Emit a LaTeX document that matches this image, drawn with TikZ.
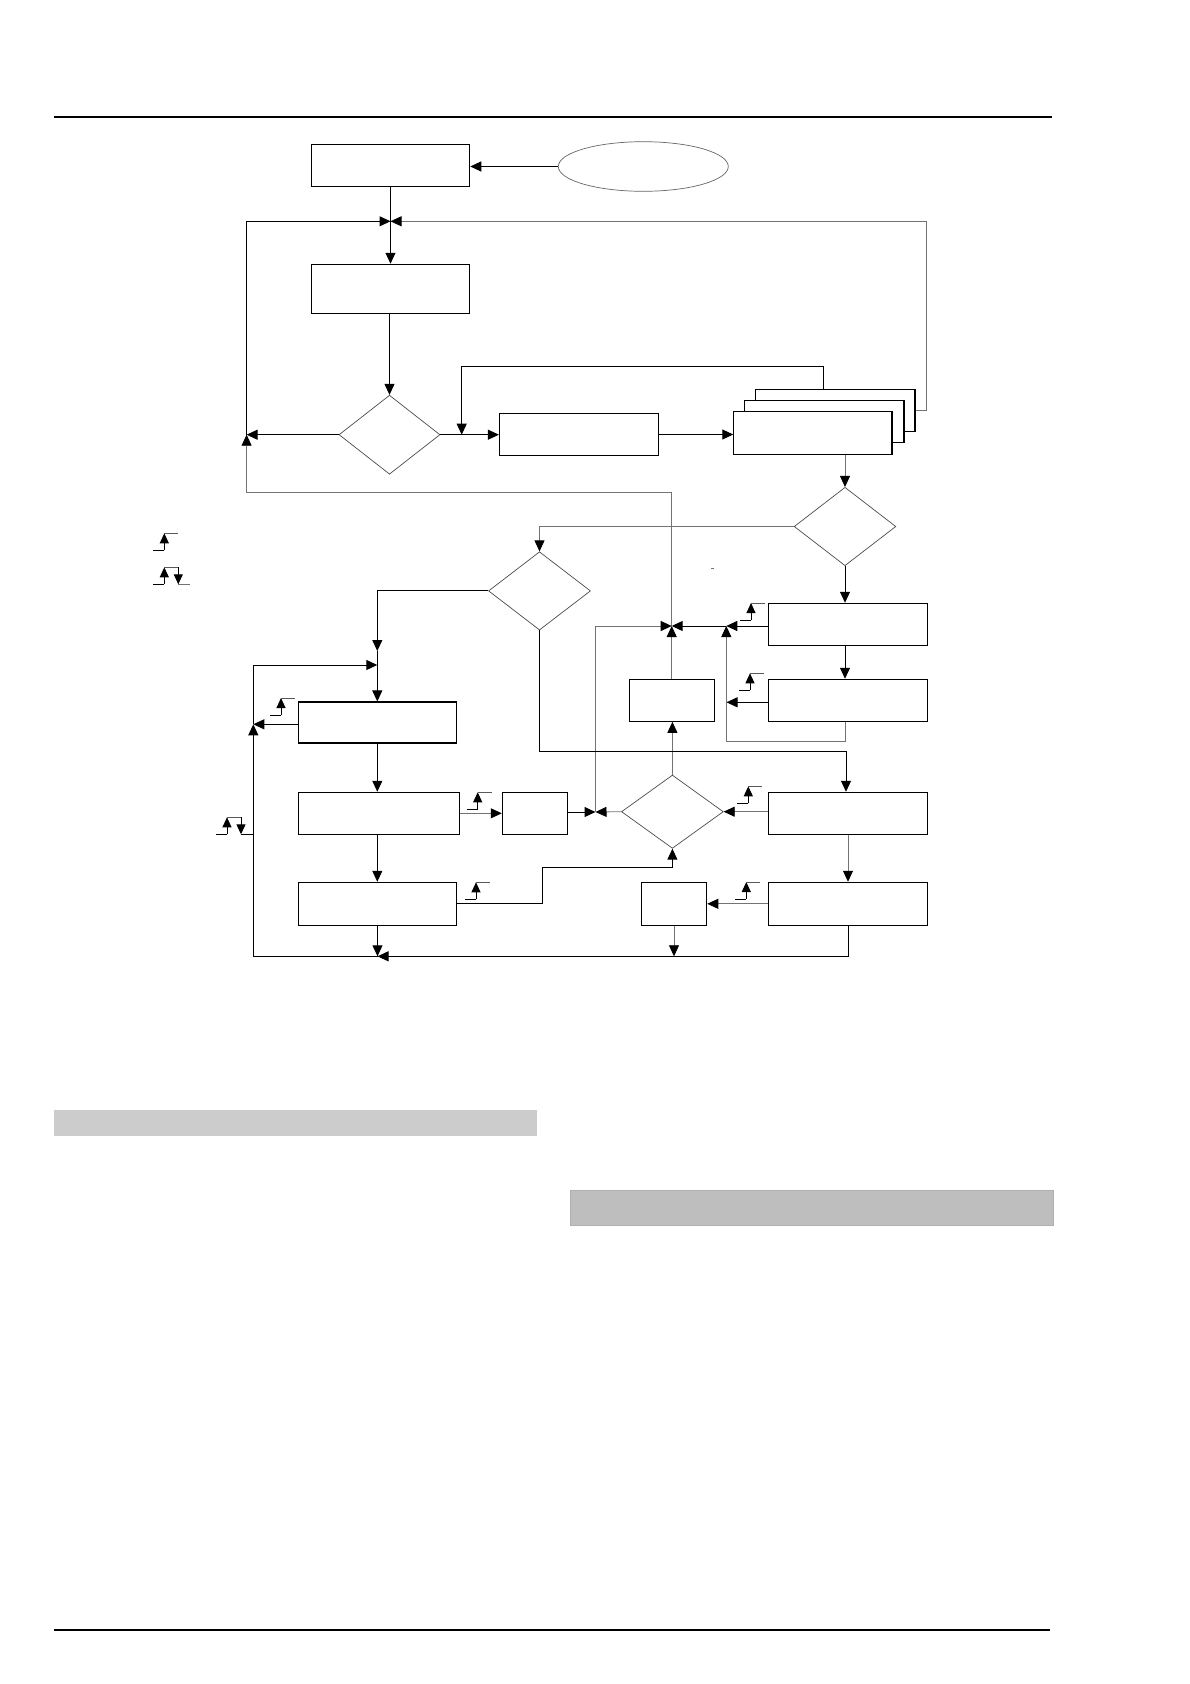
\documentclass[tikz,border=0pt]{standalone}
\usetikzlibrary{arrows.meta,shapes.geometric}
\begin{document}
\begin{tikzpicture}[x=1pt,y=-1pt,
  bx/.style={draw,line width=1.1pt,inner sep=0pt},
  dia/.style={draw=black!70,line width=0.7pt,diamond,inner sep=0pt},
  ar/.style={line width=1pt,-{Triangle[length=11pt,width=10pt]}},
  gar/.style={draw=black!55,line width=0.8pt,-{Triangle[length=11pt,width=10pt,color=black]}},
  ln/.style={line width=1pt},
  gln/.style={draw=black!55,line width=0.8pt},
  pics/pulseup/.style={code={
    \draw[line width=1pt] (0,0) -- (11,0);
    \draw[line width=1pt,-{Triangle[length=10pt,width=9pt]}] (11,0) -- (11,-17);
    \draw[line width=0.8pt,black!65] (11,-17) -- (25,-17);
  }}
]
\fill[white] (0,0) rectangle (1190,1684);
\useasboundingbox (0,0) rectangle (1190,1684);

% page rules and grey bars
\draw[line width=1.3pt] (54,117) -- (1051.7,117);
\draw[line width=1.3pt] (54,1630) -- (1050,1630);
\fill[black!20] (53.9,1110) rectangle (537,1135.5);
\filldraw[fill=black!25.5,draw=black!31,line width=0.8pt] (570.7,1190) rectangle (1053.6,1225.5);

% nodes
\node[bx,minimum width=158.4pt,minimum height=42pt] (b1) at (390.5,165.3) {};
\node[draw=black!60,line width=0.7pt,ellipse,inner sep=0pt,minimum width=170pt,minimum height=49.6pt] (e1) at (643.3,166.5) {};
\node[bx,minimum width=158.4pt,minimum height=49pt] (b2) at (390.5,288.8) {};
\node[dia,minimum width=101pt,minimum height=79pt] (d1) at (389.5,434.7) {};
\node[bx,minimum width=158.7pt,minimum height=42pt] (b3) at (578.8,434.5) {};
\node[bx,fill=white,minimum width=159.2pt,minimum height=42pt] (s3) at (835.4,410.3) {};
\node[bx,fill=white,minimum width=159.1pt,minimum height=42pt] (s2) at (824.4,421.3) {};
\node[bx,fill=white,minimum width=158.2pt,minimum height=43.3pt] (s1) at (812.9,432.7) {};
\node[dia,minimum width=101.7pt,minimum height=78.4pt] (d2) at (845,526.5) {};
\node[dia,minimum width=102pt,minimum height=78.3pt] (d3) at (539.5,590.9) {};
\node[bx,minimum width=159.4pt,minimum height=42pt] (r1) at (848,624.3) {};
\node[bx,minimum width=159.4pt,minimum height=42pt] (r2) at (848,700.3) {};
\node[bx,minimum width=85.4pt,minimum height=42pt] (sa) at (672,700.3) {};
\node[bx,minimum width=158pt,minimum height=41pt] (l1) at (377.3,722.5) {};
\node[bx,minimum width=161.4pt,minimum height=42pt] (l2) at (379,813.3) {};
\node[bx,minimum width=158.4pt,minimum height=43pt] (l3) at (377.5,903.8) {};
\node[bx,minimum width=65.4pt,minimum height=42pt] (sb) at (535,813.3) {};
\node[dia,minimum width=101.8pt,minimum height=73.3pt] (d4) at (672.4,811.7) {};
\node[bx,minimum width=159.4pt,minimum height=42pt] (r3) at (848,813.3) {};
\node[bx,minimum width=159.4pt,minimum height=43pt] (r4) at (848,903.8) {};
\node[bx,minimum width=65.4pt,minimum height=43pt] (sc) at (674,903.8) {};

% junctions
\coordinate (J1) at (390.5,221.3);
\coordinate (LA) at (246.6,434.7);
\coordinate (J2) at (671.7,626);
\coordinate (J3) at (726.3,626);
\coordinate (JR2) at (726.5,702.3);
\coordinate (J4) at (595.5,812);
\coordinate (J5) at (377.3,665);
\coordinate (J5a) at (377.3,651);
\coordinate (LB) at (253.3,724.3);
\coordinate (J6) at (377.5,956.3);
\coordinate (K1) at (846,751.7);

% top part
\draw[ar] (e1.west) -- (e1.west -| b1.east);
\draw[ln] (b1.south) -- (J1);
\draw[ar] (J1) -- (b2.north);
\draw[ar] (b2.south -| d1.north) -- (d1.north);
\draw[ar] (d1.west) -- (LA);
\draw[ar] (LA) |- (J1);
\draw[gar] (s3.east) -| (926.4,221.3) -- (J1);
\draw[ar] (d1.east) -- (d1.east -| b3.west);
\draw[ar] ([xshift=-11.7pt]s3.north) |- (461.7,366) -- (461.7,434.7);
\draw[ar] (b3.east) -- (b3.east -| s1.west);
\draw[gar] (s1.south -| d2.north) -- (d2.north);

% right column
\draw[gar] (d2.west) -| (d3.north);
\draw[ar] (d2.south) -- (d2.south |- r1.north);
\draw[ar] (r1.south -| d2.south) -- (r2.north -| d2.south);
\draw[ar] (r1.west |- J3) -- (J3);
\draw[ar] (J3) -- (J2);
\draw[ar] (r2.west |- JR2) -- (JR2);
\draw[gar] (r2.south -| d2.south) |- (726.3,741) -- (J3);
\draw[gar] (sa.north -| J2) -- (J2);
\draw[gar] (J2) -- (671.7,492.3) -| (LA);
\draw[gar] (d4.north) -- (d4.north |- sa.south);
\draw[ar] (sb.east |- J4) -- (J4);
\draw[gar] (d4.west) -- (J4);
\draw[gar] (J4) |- (J2);
\draw[ar] (d3.south) |- (K1) -- (K1 |- r3.north);
\draw[gar] (r3.west |- d4.east) -- (d4.east);
\draw[gar] (r3.south) -- (r3.south |- r4.north);
\draw[gar] (r4.west) -- (sc.east);
\draw[gar] (sc.south) -- (sc.south |- J6);

% left column
\draw[ar] (d3.west) -| (J5a);
\draw[ln] (J5a) -- (J5);
\draw[ar] (J5) -- (l1.north);
\draw[ar] (l1.west |- LB) -- (LB);
\draw[ar] (J6) -| (LB);
\draw[ar] (LB) |- (J5);
\draw[ar] (l1.south) -- (l1.south |- l2.north);
\draw[ar] (l1.south |- l2.south) -- (l1.south |- l3.north);
\draw[ar] (l3.south) -- (l3.south |- J6);
\draw[ar] (r4.south) |- (J6);
\draw[gar] (l2.east) -- (sb.west);
\draw[ar] (l3.east) -| (542.3,867.3) -| (d4.south);

% pulse symbols
\pic at (153.3,550.3) {pulseup};
\pic at (153.3,584.3) {pulseup};
\draw[line width=1pt,-{Triangle[length=10pt,width=9pt]}] (178.3,567.3) -- (178.3,584.3);
\draw[line width=0.8pt,black!55] (178.3,584.3) -- (190.3,584.3);
\pic at (740,620) {pulseup};
\pic at (739,690.3) {pulseup};
\pic at (270,715) {pulseup};
\pic at (216,834.3) {pulseup};
\draw[line width=1pt,-{Triangle[length=10pt,width=9pt]}] (241,817.3) -- (241,834.3);
\draw[line width=1pt] (241,834.3) -- (253.3,834.3);
\pic at (466.7,809.3) {pulseup};
\pic at (465,899.3) {pulseup};
\pic at (737.3,803.3) {pulseup};
\pic at (735.3,899) {pulseup};
\draw[black!55,line width=0.6pt] (711,568.3) -- (713.5,568.3);
\end{tikzpicture}
\end{document}
